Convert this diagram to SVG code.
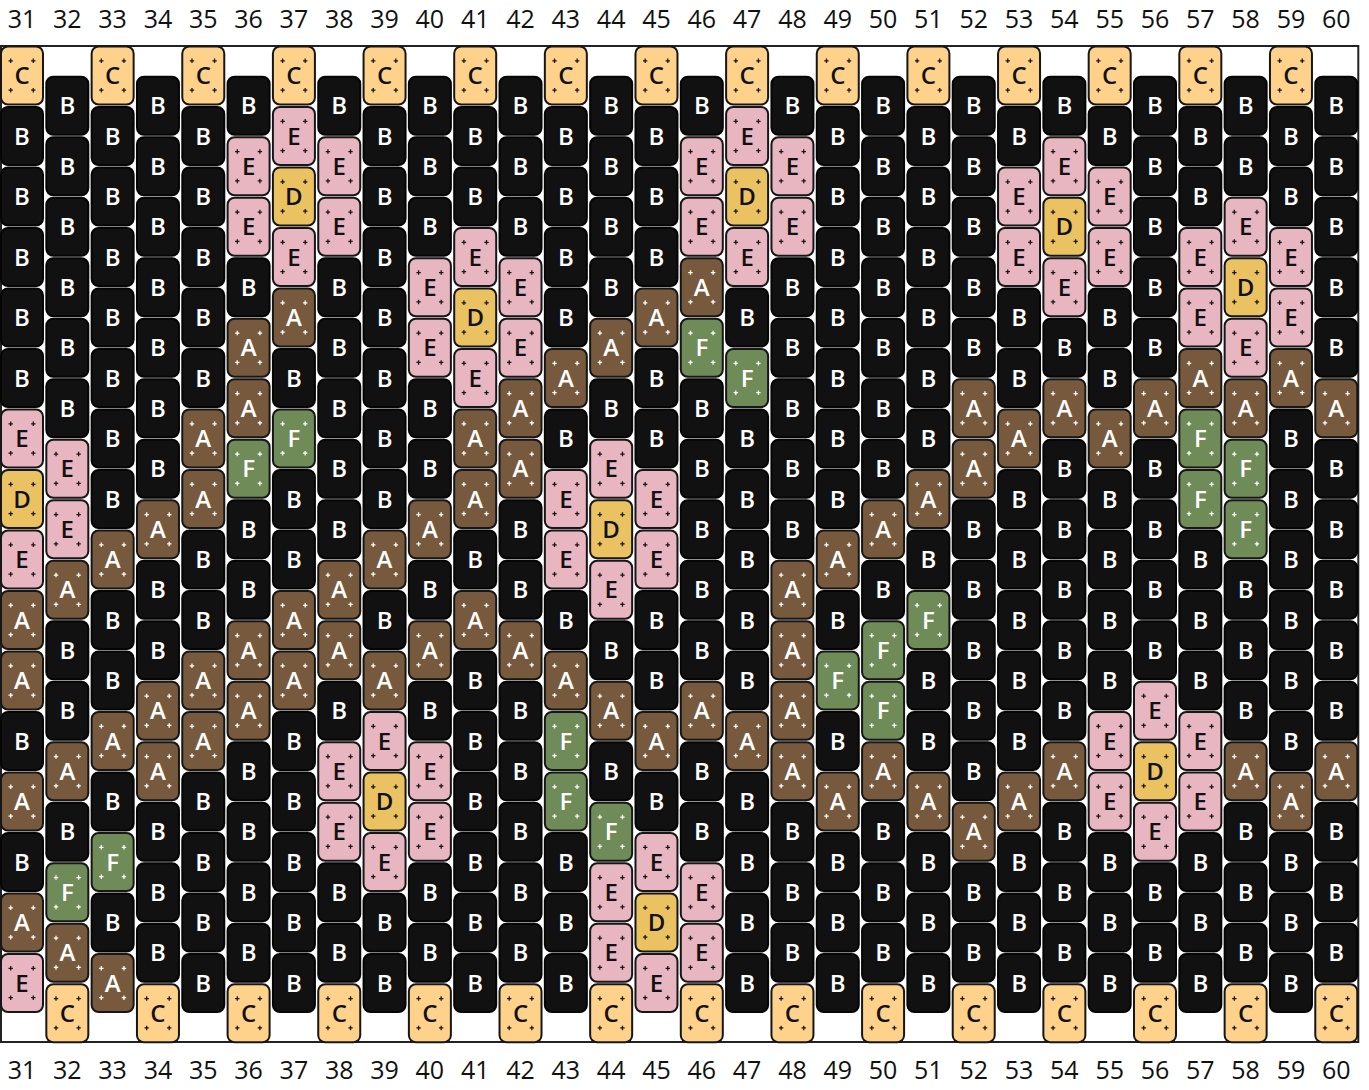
<svg xmlns="http://www.w3.org/2000/svg" xmlns:xlink="http://www.w3.org/1999/xlink" width="1369" height="1090" viewBox="0 0 1369 1090">
<style>
.bd use{stroke:#161616;stroke-width:2}
.bd use+use{fill:none;stroke-width:1.3}
.B use{fill:#111;stroke:#050505}
.C use{fill:#FFD28C}
.D use{fill:#EBC262}
.E use{fill:#E8B6C0}
.A use{fill:#775A3D}
.F use{fill:#6E8B58}
.A use+use,.F use+use{stroke:#fff}
.bd text{font-family:'Open Sans','Noto Sans',sans-serif;font-size:24px;font-weight:600;text-anchor:middle;fill:#fff}
.C text,.D text,.E text{fill:#111}
.lbl text{font-family:'Open Sans','Noto Sans',sans-serif;font-size:25px;text-anchor:middle;fill:#111}
</style>
<defs>
<rect id="r" x="-21" y="-37.5" width="42" height="58" rx="7" ry="7"/>
<path id="p" d="M-13.5,-23.2h4.4M-11.3,-25.4v4.4M9.1,-23.2h4.4M11.3,-25.4v4.4M-13.5,6.2h4.4M-11.3,4v4.4M9.1,6.2h4.4M11.3,4v4.4"/>
</defs>
<rect width="1369" height="1090" fill="#fff"/>
<g id="labels-top" class="lbl">
<text x="22" y="28">31</text><text x="67.32" y="28">32</text><text x="112.64" y="28">33</text><text x="157.96" y="28">34</text><text x="203.28" y="28">35</text><text x="248.6" y="28">36</text><text x="293.92" y="28">37</text><text x="339.24" y="28">38</text><text x="384.56" y="28">39</text><text x="429.88" y="28">40</text><text x="475.2" y="28">41</text><text x="520.52" y="28">42</text><text x="565.84" y="28">43</text><text x="611.16" y="28">44</text><text x="656.48" y="28">45</text><text x="701.8" y="28">46</text><text x="747.12" y="28">47</text><text x="792.44" y="28">48</text><text x="837.76" y="28">49</text><text x="883.08" y="28">50</text><text x="928.4" y="28">51</text><text x="973.72" y="28">52</text><text x="1019.04" y="28">53</text><text x="1064.36" y="28">54</text><text x="1109.68" y="28">55</text><text x="1155" y="28">56</text><text x="1200.32" y="28">57</text><text x="1245.64" y="28">58</text><text x="1290.96" y="28">59</text><text x="1336.28" y="28">60</text>
</g>
<g id="labels-bottom" class="lbl">
<text x="22" y="1079">31</text><text x="67.32" y="1079">32</text><text x="112.64" y="1079">33</text><text x="157.96" y="1079">34</text><text x="203.28" y="1079">35</text><text x="248.6" y="1079">36</text><text x="293.92" y="1079">37</text><text x="339.24" y="1079">38</text><text x="384.56" y="1079">39</text><text x="429.88" y="1079">40</text><text x="475.2" y="1079">41</text><text x="520.52" y="1079">42</text><text x="565.84" y="1079">43</text><text x="611.16" y="1079">44</text><text x="656.48" y="1079">45</text><text x="701.8" y="1079">46</text><text x="747.12" y="1079">47</text><text x="792.44" y="1079">48</text><text x="837.76" y="1079">49</text><text x="883.08" y="1079">50</text><text x="928.4" y="1079">51</text><text x="973.72" y="1079">52</text><text x="1019.04" y="1079">53</text><text x="1064.36" y="1079">54</text><text x="1109.68" y="1079">55</text><text x="1155" y="1079">56</text><text x="1200.32" y="1079">57</text><text x="1245.64" y="1079">58</text><text x="1290.96" y="1079">59</text><text x="1336.28" y="1079">60</text>
</g>
<rect id="frame" x="1" y="46" width="1357.3" height="996" fill="none" stroke="#222" stroke-width="2"/>
<g id="beads">
<g id="col31" transform="translate(22 84)">
<g id="n31-0" class="bd C"><use href="#r"/><use href="#p"/><text>C</text></g>
<g id="n31-1" class="bd B" transform="translate(0 60.5)"><use href="#r"/><text>B</text></g>
<g id="n31-2" class="bd B" transform="translate(0 121)"><use href="#r"/><text>B</text></g>
<g id="n31-3" class="bd B" transform="translate(0 181.5)"><use href="#r"/><text>B</text></g>
<g id="n31-4" class="bd B" transform="translate(0 242)"><use href="#r"/><text>B</text></g>
<g id="n31-5" class="bd B" transform="translate(0 302.5)"><use href="#r"/><text>B</text></g>
<g id="n31-6" class="bd E" transform="translate(0 363)"><use href="#r"/><use href="#p"/><text>E</text></g>
<g id="n31-7" class="bd D" transform="translate(0 423.5)"><use href="#r"/><use href="#p"/><text>D</text></g>
<g id="n31-8" class="bd E" transform="translate(0 484)"><use href="#r"/><use href="#p"/><text>E</text></g>
<g id="n31-9" class="bd A" transform="translate(0 544.5)"><use href="#r"/><use href="#p"/><text>A</text></g>
<g id="n31-10" class="bd A" transform="translate(0 605)"><use href="#r"/><use href="#p"/><text>A</text></g>
<g id="n31-11" class="bd B" transform="translate(0 665.5)"><use href="#r"/><text>B</text></g>
<g id="n31-12" class="bd A" transform="translate(0 726)"><use href="#r"/><use href="#p"/><text>A</text></g>
<g id="n31-13" class="bd B" transform="translate(0 786.5)"><use href="#r"/><text>B</text></g>
<g id="n31-14" class="bd A" transform="translate(0 847)"><use href="#r"/><use href="#p"/><text>A</text></g>
<g id="n31-15" class="bd E" transform="translate(0 907.5)"><use href="#r"/><use href="#p"/><text>E</text></g>
</g>
<g id="col32" transform="translate(67.32 114.25)">
<g id="n32-0" class="bd B"><use href="#r"/><text>B</text></g>
<g id="n32-1" class="bd B" transform="translate(0 60.5)"><use href="#r"/><text>B</text></g>
<g id="n32-2" class="bd B" transform="translate(0 121)"><use href="#r"/><text>B</text></g>
<g id="n32-3" class="bd B" transform="translate(0 181.5)"><use href="#r"/><text>B</text></g>
<g id="n32-4" class="bd B" transform="translate(0 242)"><use href="#r"/><text>B</text></g>
<g id="n32-5" class="bd B" transform="translate(0 302.5)"><use href="#r"/><text>B</text></g>
<g id="n32-6" class="bd E" transform="translate(0 363)"><use href="#r"/><use href="#p"/><text>E</text></g>
<g id="n32-7" class="bd E" transform="translate(0 423.5)"><use href="#r"/><use href="#p"/><text>E</text></g>
<g id="n32-8" class="bd A" transform="translate(0 484)"><use href="#r"/><use href="#p"/><text>A</text></g>
<g id="n32-9" class="bd B" transform="translate(0 544.5)"><use href="#r"/><text>B</text></g>
<g id="n32-10" class="bd B" transform="translate(0 605)"><use href="#r"/><text>B</text></g>
<g id="n32-11" class="bd A" transform="translate(0 665.5)"><use href="#r"/><use href="#p"/><text>A</text></g>
<g id="n32-12" class="bd B" transform="translate(0 726)"><use href="#r"/><text>B</text></g>
<g id="n32-13" class="bd F" transform="translate(0 786.5)"><use href="#r"/><use href="#p"/><text>F</text></g>
<g id="n32-14" class="bd A" transform="translate(0 847)"><use href="#r"/><use href="#p"/><text>A</text></g>
<g id="n32-15" class="bd C" transform="translate(0 907.5)"><use href="#r"/><use href="#p"/><text>C</text></g>
</g>
<g id="col33" transform="translate(112.64 84)">
<g id="n33-0" class="bd C"><use href="#r"/><use href="#p"/><text>C</text></g>
<g id="n33-1" class="bd B" transform="translate(0 60.5)"><use href="#r"/><text>B</text></g>
<g id="n33-2" class="bd B" transform="translate(0 121)"><use href="#r"/><text>B</text></g>
<g id="n33-3" class="bd B" transform="translate(0 181.5)"><use href="#r"/><text>B</text></g>
<g id="n33-4" class="bd B" transform="translate(0 242)"><use href="#r"/><text>B</text></g>
<g id="n33-5" class="bd B" transform="translate(0 302.5)"><use href="#r"/><text>B</text></g>
<g id="n33-6" class="bd B" transform="translate(0 363)"><use href="#r"/><text>B</text></g>
<g id="n33-7" class="bd B" transform="translate(0 423.5)"><use href="#r"/><text>B</text></g>
<g id="n33-8" class="bd A" transform="translate(0 484)"><use href="#r"/><use href="#p"/><text>A</text></g>
<g id="n33-9" class="bd B" transform="translate(0 544.5)"><use href="#r"/><text>B</text></g>
<g id="n33-10" class="bd B" transform="translate(0 605)"><use href="#r"/><text>B</text></g>
<g id="n33-11" class="bd A" transform="translate(0 665.5)"><use href="#r"/><use href="#p"/><text>A</text></g>
<g id="n33-12" class="bd B" transform="translate(0 726)"><use href="#r"/><text>B</text></g>
<g id="n33-13" class="bd F" transform="translate(0 786.5)"><use href="#r"/><use href="#p"/><text>F</text></g>
<g id="n33-14" class="bd B" transform="translate(0 847)"><use href="#r"/><text>B</text></g>
<g id="n33-15" class="bd A" transform="translate(0 907.5)"><use href="#r"/><use href="#p"/><text>A</text></g>
</g>
<g id="col34" transform="translate(157.96 114.25)">
<g id="n34-0" class="bd B"><use href="#r"/><text>B</text></g>
<g id="n34-1" class="bd B" transform="translate(0 60.5)"><use href="#r"/><text>B</text></g>
<g id="n34-2" class="bd B" transform="translate(0 121)"><use href="#r"/><text>B</text></g>
<g id="n34-3" class="bd B" transform="translate(0 181.5)"><use href="#r"/><text>B</text></g>
<g id="n34-4" class="bd B" transform="translate(0 242)"><use href="#r"/><text>B</text></g>
<g id="n34-5" class="bd B" transform="translate(0 302.5)"><use href="#r"/><text>B</text></g>
<g id="n34-6" class="bd B" transform="translate(0 363)"><use href="#r"/><text>B</text></g>
<g id="n34-7" class="bd A" transform="translate(0 423.5)"><use href="#r"/><use href="#p"/><text>A</text></g>
<g id="n34-8" class="bd B" transform="translate(0 484)"><use href="#r"/><text>B</text></g>
<g id="n34-9" class="bd B" transform="translate(0 544.5)"><use href="#r"/><text>B</text></g>
<g id="n34-10" class="bd A" transform="translate(0 605)"><use href="#r"/><use href="#p"/><text>A</text></g>
<g id="n34-11" class="bd A" transform="translate(0 665.5)"><use href="#r"/><use href="#p"/><text>A</text></g>
<g id="n34-12" class="bd B" transform="translate(0 726)"><use href="#r"/><text>B</text></g>
<g id="n34-13" class="bd B" transform="translate(0 786.5)"><use href="#r"/><text>B</text></g>
<g id="n34-14" class="bd B" transform="translate(0 847)"><use href="#r"/><text>B</text></g>
<g id="n34-15" class="bd C" transform="translate(0 907.5)"><use href="#r"/><use href="#p"/><text>C</text></g>
</g>
<g id="col35" transform="translate(203.28 84)">
<g id="n35-0" class="bd C"><use href="#r"/><use href="#p"/><text>C</text></g>
<g id="n35-1" class="bd B" transform="translate(0 60.5)"><use href="#r"/><text>B</text></g>
<g id="n35-2" class="bd B" transform="translate(0 121)"><use href="#r"/><text>B</text></g>
<g id="n35-3" class="bd B" transform="translate(0 181.5)"><use href="#r"/><text>B</text></g>
<g id="n35-4" class="bd B" transform="translate(0 242)"><use href="#r"/><text>B</text></g>
<g id="n35-5" class="bd B" transform="translate(0 302.5)"><use href="#r"/><text>B</text></g>
<g id="n35-6" class="bd A" transform="translate(0 363)"><use href="#r"/><use href="#p"/><text>A</text></g>
<g id="n35-7" class="bd A" transform="translate(0 423.5)"><use href="#r"/><use href="#p"/><text>A</text></g>
<g id="n35-8" class="bd B" transform="translate(0 484)"><use href="#r"/><text>B</text></g>
<g id="n35-9" class="bd B" transform="translate(0 544.5)"><use href="#r"/><text>B</text></g>
<g id="n35-10" class="bd A" transform="translate(0 605)"><use href="#r"/><use href="#p"/><text>A</text></g>
<g id="n35-11" class="bd A" transform="translate(0 665.5)"><use href="#r"/><use href="#p"/><text>A</text></g>
<g id="n35-12" class="bd B" transform="translate(0 726)"><use href="#r"/><text>B</text></g>
<g id="n35-13" class="bd B" transform="translate(0 786.5)"><use href="#r"/><text>B</text></g>
<g id="n35-14" class="bd B" transform="translate(0 847)"><use href="#r"/><text>B</text></g>
<g id="n35-15" class="bd B" transform="translate(0 907.5)"><use href="#r"/><text>B</text></g>
</g>
<g id="col36" transform="translate(248.6 114.25)">
<g id="n36-0" class="bd B"><use href="#r"/><text>B</text></g>
<g id="n36-1" class="bd E" transform="translate(0 60.5)"><use href="#r"/><use href="#p"/><text>E</text></g>
<g id="n36-2" class="bd E" transform="translate(0 121)"><use href="#r"/><use href="#p"/><text>E</text></g>
<g id="n36-3" class="bd B" transform="translate(0 181.5)"><use href="#r"/><text>B</text></g>
<g id="n36-4" class="bd A" transform="translate(0 242)"><use href="#r"/><use href="#p"/><text>A</text></g>
<g id="n36-5" class="bd A" transform="translate(0 302.5)"><use href="#r"/><use href="#p"/><text>A</text></g>
<g id="n36-6" class="bd F" transform="translate(0 363)"><use href="#r"/><use href="#p"/><text>F</text></g>
<g id="n36-7" class="bd B" transform="translate(0 423.5)"><use href="#r"/><text>B</text></g>
<g id="n36-8" class="bd B" transform="translate(0 484)"><use href="#r"/><text>B</text></g>
<g id="n36-9" class="bd A" transform="translate(0 544.5)"><use href="#r"/><use href="#p"/><text>A</text></g>
<g id="n36-10" class="bd A" transform="translate(0 605)"><use href="#r"/><use href="#p"/><text>A</text></g>
<g id="n36-11" class="bd B" transform="translate(0 665.5)"><use href="#r"/><text>B</text></g>
<g id="n36-12" class="bd B" transform="translate(0 726)"><use href="#r"/><text>B</text></g>
<g id="n36-13" class="bd B" transform="translate(0 786.5)"><use href="#r"/><text>B</text></g>
<g id="n36-14" class="bd B" transform="translate(0 847)"><use href="#r"/><text>B</text></g>
<g id="n36-15" class="bd C" transform="translate(0 907.5)"><use href="#r"/><use href="#p"/><text>C</text></g>
</g>
<g id="col37" transform="translate(293.92 84)">
<g id="n37-0" class="bd C"><use href="#r"/><use href="#p"/><text>C</text></g>
<g id="n37-1" class="bd E" transform="translate(0 60.5)"><use href="#r"/><use href="#p"/><text>E</text></g>
<g id="n37-2" class="bd D" transform="translate(0 121)"><use href="#r"/><use href="#p"/><text>D</text></g>
<g id="n37-3" class="bd E" transform="translate(0 181.5)"><use href="#r"/><use href="#p"/><text>E</text></g>
<g id="n37-4" class="bd A" transform="translate(0 242)"><use href="#r"/><use href="#p"/><text>A</text></g>
<g id="n37-5" class="bd B" transform="translate(0 302.5)"><use href="#r"/><text>B</text></g>
<g id="n37-6" class="bd F" transform="translate(0 363)"><use href="#r"/><use href="#p"/><text>F</text></g>
<g id="n37-7" class="bd B" transform="translate(0 423.5)"><use href="#r"/><text>B</text></g>
<g id="n37-8" class="bd B" transform="translate(0 484)"><use href="#r"/><text>B</text></g>
<g id="n37-9" class="bd A" transform="translate(0 544.5)"><use href="#r"/><use href="#p"/><text>A</text></g>
<g id="n37-10" class="bd A" transform="translate(0 605)"><use href="#r"/><use href="#p"/><text>A</text></g>
<g id="n37-11" class="bd B" transform="translate(0 665.5)"><use href="#r"/><text>B</text></g>
<g id="n37-12" class="bd B" transform="translate(0 726)"><use href="#r"/><text>B</text></g>
<g id="n37-13" class="bd B" transform="translate(0 786.5)"><use href="#r"/><text>B</text></g>
<g id="n37-14" class="bd B" transform="translate(0 847)"><use href="#r"/><text>B</text></g>
<g id="n37-15" class="bd B" transform="translate(0 907.5)"><use href="#r"/><text>B</text></g>
</g>
<g id="col38" transform="translate(339.24 114.25)">
<g id="n38-0" class="bd B"><use href="#r"/><text>B</text></g>
<g id="n38-1" class="bd E" transform="translate(0 60.5)"><use href="#r"/><use href="#p"/><text>E</text></g>
<g id="n38-2" class="bd E" transform="translate(0 121)"><use href="#r"/><use href="#p"/><text>E</text></g>
<g id="n38-3" class="bd B" transform="translate(0 181.5)"><use href="#r"/><text>B</text></g>
<g id="n38-4" class="bd B" transform="translate(0 242)"><use href="#r"/><text>B</text></g>
<g id="n38-5" class="bd B" transform="translate(0 302.5)"><use href="#r"/><text>B</text></g>
<g id="n38-6" class="bd B" transform="translate(0 363)"><use href="#r"/><text>B</text></g>
<g id="n38-7" class="bd B" transform="translate(0 423.5)"><use href="#r"/><text>B</text></g>
<g id="n38-8" class="bd A" transform="translate(0 484)"><use href="#r"/><use href="#p"/><text>A</text></g>
<g id="n38-9" class="bd A" transform="translate(0 544.5)"><use href="#r"/><use href="#p"/><text>A</text></g>
<g id="n38-10" class="bd B" transform="translate(0 605)"><use href="#r"/><text>B</text></g>
<g id="n38-11" class="bd E" transform="translate(0 665.5)"><use href="#r"/><use href="#p"/><text>E</text></g>
<g id="n38-12" class="bd E" transform="translate(0 726)"><use href="#r"/><use href="#p"/><text>E</text></g>
<g id="n38-13" class="bd B" transform="translate(0 786.5)"><use href="#r"/><text>B</text></g>
<g id="n38-14" class="bd B" transform="translate(0 847)"><use href="#r"/><text>B</text></g>
<g id="n38-15" class="bd C" transform="translate(0 907.5)"><use href="#r"/><use href="#p"/><text>C</text></g>
</g>
<g id="col39" transform="translate(384.56 84)">
<g id="n39-0" class="bd C"><use href="#r"/><use href="#p"/><text>C</text></g>
<g id="n39-1" class="bd B" transform="translate(0 60.5)"><use href="#r"/><text>B</text></g>
<g id="n39-2" class="bd B" transform="translate(0 121)"><use href="#r"/><text>B</text></g>
<g id="n39-3" class="bd B" transform="translate(0 181.5)"><use href="#r"/><text>B</text></g>
<g id="n39-4" class="bd B" transform="translate(0 242)"><use href="#r"/><text>B</text></g>
<g id="n39-5" class="bd B" transform="translate(0 302.5)"><use href="#r"/><text>B</text></g>
<g id="n39-6" class="bd B" transform="translate(0 363)"><use href="#r"/><text>B</text></g>
<g id="n39-7" class="bd B" transform="translate(0 423.5)"><use href="#r"/><text>B</text></g>
<g id="n39-8" class="bd A" transform="translate(0 484)"><use href="#r"/><use href="#p"/><text>A</text></g>
<g id="n39-9" class="bd B" transform="translate(0 544.5)"><use href="#r"/><text>B</text></g>
<g id="n39-10" class="bd A" transform="translate(0 605)"><use href="#r"/><use href="#p"/><text>A</text></g>
<g id="n39-11" class="bd E" transform="translate(0 665.5)"><use href="#r"/><use href="#p"/><text>E</text></g>
<g id="n39-12" class="bd D" transform="translate(0 726)"><use href="#r"/><use href="#p"/><text>D</text></g>
<g id="n39-13" class="bd E" transform="translate(0 786.5)"><use href="#r"/><use href="#p"/><text>E</text></g>
<g id="n39-14" class="bd B" transform="translate(0 847)"><use href="#r"/><text>B</text></g>
<g id="n39-15" class="bd B" transform="translate(0 907.5)"><use href="#r"/><text>B</text></g>
</g>
<g id="col40" transform="translate(429.88 114.25)">
<g id="n40-0" class="bd B"><use href="#r"/><text>B</text></g>
<g id="n40-1" class="bd B" transform="translate(0 60.5)"><use href="#r"/><text>B</text></g>
<g id="n40-2" class="bd B" transform="translate(0 121)"><use href="#r"/><text>B</text></g>
<g id="n40-3" class="bd E" transform="translate(0 181.5)"><use href="#r"/><use href="#p"/><text>E</text></g>
<g id="n40-4" class="bd E" transform="translate(0 242)"><use href="#r"/><use href="#p"/><text>E</text></g>
<g id="n40-5" class="bd B" transform="translate(0 302.5)"><use href="#r"/><text>B</text></g>
<g id="n40-6" class="bd B" transform="translate(0 363)"><use href="#r"/><text>B</text></g>
<g id="n40-7" class="bd A" transform="translate(0 423.5)"><use href="#r"/><use href="#p"/><text>A</text></g>
<g id="n40-8" class="bd B" transform="translate(0 484)"><use href="#r"/><text>B</text></g>
<g id="n40-9" class="bd A" transform="translate(0 544.5)"><use href="#r"/><use href="#p"/><text>A</text></g>
<g id="n40-10" class="bd B" transform="translate(0 605)"><use href="#r"/><text>B</text></g>
<g id="n40-11" class="bd E" transform="translate(0 665.5)"><use href="#r"/><use href="#p"/><text>E</text></g>
<g id="n40-12" class="bd E" transform="translate(0 726)"><use href="#r"/><use href="#p"/><text>E</text></g>
<g id="n40-13" class="bd B" transform="translate(0 786.5)"><use href="#r"/><text>B</text></g>
<g id="n40-14" class="bd B" transform="translate(0 847)"><use href="#r"/><text>B</text></g>
<g id="n40-15" class="bd C" transform="translate(0 907.5)"><use href="#r"/><use href="#p"/><text>C</text></g>
</g>
<g id="col41" transform="translate(475.2 84)">
<g id="n41-0" class="bd C"><use href="#r"/><use href="#p"/><text>C</text></g>
<g id="n41-1" class="bd B" transform="translate(0 60.5)"><use href="#r"/><text>B</text></g>
<g id="n41-2" class="bd B" transform="translate(0 121)"><use href="#r"/><text>B</text></g>
<g id="n41-3" class="bd E" transform="translate(0 181.5)"><use href="#r"/><use href="#p"/><text>E</text></g>
<g id="n41-4" class="bd D" transform="translate(0 242)"><use href="#r"/><use href="#p"/><text>D</text></g>
<g id="n41-5" class="bd E" transform="translate(0 302.5)"><use href="#r"/><use href="#p"/><text>E</text></g>
<g id="n41-6" class="bd A" transform="translate(0 363)"><use href="#r"/><use href="#p"/><text>A</text></g>
<g id="n41-7" class="bd A" transform="translate(0 423.5)"><use href="#r"/><use href="#p"/><text>A</text></g>
<g id="n41-8" class="bd B" transform="translate(0 484)"><use href="#r"/><text>B</text></g>
<g id="n41-9" class="bd A" transform="translate(0 544.5)"><use href="#r"/><use href="#p"/><text>A</text></g>
<g id="n41-10" class="bd B" transform="translate(0 605)"><use href="#r"/><text>B</text></g>
<g id="n41-11" class="bd B" transform="translate(0 665.5)"><use href="#r"/><text>B</text></g>
<g id="n41-12" class="bd B" transform="translate(0 726)"><use href="#r"/><text>B</text></g>
<g id="n41-13" class="bd B" transform="translate(0 786.5)"><use href="#r"/><text>B</text></g>
<g id="n41-14" class="bd B" transform="translate(0 847)"><use href="#r"/><text>B</text></g>
<g id="n41-15" class="bd B" transform="translate(0 907.5)"><use href="#r"/><text>B</text></g>
</g>
<g id="col42" transform="translate(520.52 114.25)">
<g id="n42-0" class="bd B"><use href="#r"/><text>B</text></g>
<g id="n42-1" class="bd B" transform="translate(0 60.5)"><use href="#r"/><text>B</text></g>
<g id="n42-2" class="bd B" transform="translate(0 121)"><use href="#r"/><text>B</text></g>
<g id="n42-3" class="bd E" transform="translate(0 181.5)"><use href="#r"/><use href="#p"/><text>E</text></g>
<g id="n42-4" class="bd E" transform="translate(0 242)"><use href="#r"/><use href="#p"/><text>E</text></g>
<g id="n42-5" class="bd A" transform="translate(0 302.5)"><use href="#r"/><use href="#p"/><text>A</text></g>
<g id="n42-6" class="bd A" transform="translate(0 363)"><use href="#r"/><use href="#p"/><text>A</text></g>
<g id="n42-7" class="bd B" transform="translate(0 423.5)"><use href="#r"/><text>B</text></g>
<g id="n42-8" class="bd B" transform="translate(0 484)"><use href="#r"/><text>B</text></g>
<g id="n42-9" class="bd A" transform="translate(0 544.5)"><use href="#r"/><use href="#p"/><text>A</text></g>
<g id="n42-10" class="bd B" transform="translate(0 605)"><use href="#r"/><text>B</text></g>
<g id="n42-11" class="bd B" transform="translate(0 665.5)"><use href="#r"/><text>B</text></g>
<g id="n42-12" class="bd B" transform="translate(0 726)"><use href="#r"/><text>B</text></g>
<g id="n42-13" class="bd B" transform="translate(0 786.5)"><use href="#r"/><text>B</text></g>
<g id="n42-14" class="bd B" transform="translate(0 847)"><use href="#r"/><text>B</text></g>
<g id="n42-15" class="bd C" transform="translate(0 907.5)"><use href="#r"/><use href="#p"/><text>C</text></g>
</g>
<g id="col43" transform="translate(565.84 84)">
<g id="n43-0" class="bd C"><use href="#r"/><use href="#p"/><text>C</text></g>
<g id="n43-1" class="bd B" transform="translate(0 60.5)"><use href="#r"/><text>B</text></g>
<g id="n43-2" class="bd B" transform="translate(0 121)"><use href="#r"/><text>B</text></g>
<g id="n43-3" class="bd B" transform="translate(0 181.5)"><use href="#r"/><text>B</text></g>
<g id="n43-4" class="bd B" transform="translate(0 242)"><use href="#r"/><text>B</text></g>
<g id="n43-5" class="bd A" transform="translate(0 302.5)"><use href="#r"/><use href="#p"/><text>A</text></g>
<g id="n43-6" class="bd B" transform="translate(0 363)"><use href="#r"/><text>B</text></g>
<g id="n43-7" class="bd E" transform="translate(0 423.5)"><use href="#r"/><use href="#p"/><text>E</text></g>
<g id="n43-8" class="bd E" transform="translate(0 484)"><use href="#r"/><use href="#p"/><text>E</text></g>
<g id="n43-9" class="bd B" transform="translate(0 544.5)"><use href="#r"/><text>B</text></g>
<g id="n43-10" class="bd A" transform="translate(0 605)"><use href="#r"/><use href="#p"/><text>A</text></g>
<g id="n43-11" class="bd F" transform="translate(0 665.5)"><use href="#r"/><use href="#p"/><text>F</text></g>
<g id="n43-12" class="bd F" transform="translate(0 726)"><use href="#r"/><use href="#p"/><text>F</text></g>
<g id="n43-13" class="bd B" transform="translate(0 786.5)"><use href="#r"/><text>B</text></g>
<g id="n43-14" class="bd B" transform="translate(0 847)"><use href="#r"/><text>B</text></g>
<g id="n43-15" class="bd B" transform="translate(0 907.5)"><use href="#r"/><text>B</text></g>
</g>
<g id="col44" transform="translate(611.16 114.25)">
<g id="n44-0" class="bd B"><use href="#r"/><text>B</text></g>
<g id="n44-1" class="bd B" transform="translate(0 60.5)"><use href="#r"/><text>B</text></g>
<g id="n44-2" class="bd B" transform="translate(0 121)"><use href="#r"/><text>B</text></g>
<g id="n44-3" class="bd B" transform="translate(0 181.5)"><use href="#r"/><text>B</text></g>
<g id="n44-4" class="bd A" transform="translate(0 242)"><use href="#r"/><use href="#p"/><text>A</text></g>
<g id="n44-5" class="bd B" transform="translate(0 302.5)"><use href="#r"/><text>B</text></g>
<g id="n44-6" class="bd E" transform="translate(0 363)"><use href="#r"/><use href="#p"/><text>E</text></g>
<g id="n44-7" class="bd D" transform="translate(0 423.5)"><use href="#r"/><use href="#p"/><text>D</text></g>
<g id="n44-8" class="bd E" transform="translate(0 484)"><use href="#r"/><use href="#p"/><text>E</text></g>
<g id="n44-9" class="bd B" transform="translate(0 544.5)"><use href="#r"/><text>B</text></g>
<g id="n44-10" class="bd A" transform="translate(0 605)"><use href="#r"/><use href="#p"/><text>A</text></g>
<g id="n44-11" class="bd B" transform="translate(0 665.5)"><use href="#r"/><text>B</text></g>
<g id="n44-12" class="bd F" transform="translate(0 726)"><use href="#r"/><use href="#p"/><text>F</text></g>
<g id="n44-13" class="bd E" transform="translate(0 786.5)"><use href="#r"/><use href="#p"/><text>E</text></g>
<g id="n44-14" class="bd E" transform="translate(0 847)"><use href="#r"/><use href="#p"/><text>E</text></g>
<g id="n44-15" class="bd C" transform="translate(0 907.5)"><use href="#r"/><use href="#p"/><text>C</text></g>
</g>
<g id="col45" transform="translate(656.48 84)">
<g id="n45-0" class="bd C"><use href="#r"/><use href="#p"/><text>C</text></g>
<g id="n45-1" class="bd B" transform="translate(0 60.5)"><use href="#r"/><text>B</text></g>
<g id="n45-2" class="bd B" transform="translate(0 121)"><use href="#r"/><text>B</text></g>
<g id="n45-3" class="bd B" transform="translate(0 181.5)"><use href="#r"/><text>B</text></g>
<g id="n45-4" class="bd A" transform="translate(0 242)"><use href="#r"/><use href="#p"/><text>A</text></g>
<g id="n45-5" class="bd B" transform="translate(0 302.5)"><use href="#r"/><text>B</text></g>
<g id="n45-6" class="bd B" transform="translate(0 363)"><use href="#r"/><text>B</text></g>
<g id="n45-7" class="bd E" transform="translate(0 423.5)"><use href="#r"/><use href="#p"/><text>E</text></g>
<g id="n45-8" class="bd E" transform="translate(0 484)"><use href="#r"/><use href="#p"/><text>E</text></g>
<g id="n45-9" class="bd B" transform="translate(0 544.5)"><use href="#r"/><text>B</text></g>
<g id="n45-10" class="bd B" transform="translate(0 605)"><use href="#r"/><text>B</text></g>
<g id="n45-11" class="bd A" transform="translate(0 665.5)"><use href="#r"/><use href="#p"/><text>A</text></g>
<g id="n45-12" class="bd B" transform="translate(0 726)"><use href="#r"/><text>B</text></g>
<g id="n45-13" class="bd E" transform="translate(0 786.5)"><use href="#r"/><use href="#p"/><text>E</text></g>
<g id="n45-14" class="bd D" transform="translate(0 847)"><use href="#r"/><use href="#p"/><text>D</text></g>
<g id="n45-15" class="bd E" transform="translate(0 907.5)"><use href="#r"/><use href="#p"/><text>E</text></g>
</g>
<g id="col46" transform="translate(701.8 114.25)">
<g id="n46-0" class="bd B"><use href="#r"/><text>B</text></g>
<g id="n46-1" class="bd E" transform="translate(0 60.5)"><use href="#r"/><use href="#p"/><text>E</text></g>
<g id="n46-2" class="bd E" transform="translate(0 121)"><use href="#r"/><use href="#p"/><text>E</text></g>
<g id="n46-3" class="bd A" transform="translate(0 181.5)"><use href="#r"/><use href="#p"/><text>A</text></g>
<g id="n46-4" class="bd F" transform="translate(0 242)"><use href="#r"/><use href="#p"/><text>F</text></g>
<g id="n46-5" class="bd B" transform="translate(0 302.5)"><use href="#r"/><text>B</text></g>
<g id="n46-6" class="bd B" transform="translate(0 363)"><use href="#r"/><text>B</text></g>
<g id="n46-7" class="bd B" transform="translate(0 423.5)"><use href="#r"/><text>B</text></g>
<g id="n46-8" class="bd B" transform="translate(0 484)"><use href="#r"/><text>B</text></g>
<g id="n46-9" class="bd B" transform="translate(0 544.5)"><use href="#r"/><text>B</text></g>
<g id="n46-10" class="bd A" transform="translate(0 605)"><use href="#r"/><use href="#p"/><text>A</text></g>
<g id="n46-11" class="bd B" transform="translate(0 665.5)"><use href="#r"/><text>B</text></g>
<g id="n46-12" class="bd B" transform="translate(0 726)"><use href="#r"/><text>B</text></g>
<g id="n46-13" class="bd E" transform="translate(0 786.5)"><use href="#r"/><use href="#p"/><text>E</text></g>
<g id="n46-14" class="bd E" transform="translate(0 847)"><use href="#r"/><use href="#p"/><text>E</text></g>
<g id="n46-15" class="bd C" transform="translate(0 907.5)"><use href="#r"/><use href="#p"/><text>C</text></g>
</g>
<g id="col47" transform="translate(747.12 84)">
<g id="n47-0" class="bd C"><use href="#r"/><use href="#p"/><text>C</text></g>
<g id="n47-1" class="bd E" transform="translate(0 60.5)"><use href="#r"/><use href="#p"/><text>E</text></g>
<g id="n47-2" class="bd D" transform="translate(0 121)"><use href="#r"/><use href="#p"/><text>D</text></g>
<g id="n47-3" class="bd E" transform="translate(0 181.5)"><use href="#r"/><use href="#p"/><text>E</text></g>
<g id="n47-4" class="bd B" transform="translate(0 242)"><use href="#r"/><text>B</text></g>
<g id="n47-5" class="bd F" transform="translate(0 302.5)"><use href="#r"/><use href="#p"/><text>F</text></g>
<g id="n47-6" class="bd B" transform="translate(0 363)"><use href="#r"/><text>B</text></g>
<g id="n47-7" class="bd B" transform="translate(0 423.5)"><use href="#r"/><text>B</text></g>
<g id="n47-8" class="bd B" transform="translate(0 484)"><use href="#r"/><text>B</text></g>
<g id="n47-9" class="bd B" transform="translate(0 544.5)"><use href="#r"/><text>B</text></g>
<g id="n47-10" class="bd B" transform="translate(0 605)"><use href="#r"/><text>B</text></g>
<g id="n47-11" class="bd A" transform="translate(0 665.5)"><use href="#r"/><use href="#p"/><text>A</text></g>
<g id="n47-12" class="bd B" transform="translate(0 726)"><use href="#r"/><text>B</text></g>
<g id="n47-13" class="bd B" transform="translate(0 786.5)"><use href="#r"/><text>B</text></g>
<g id="n47-14" class="bd B" transform="translate(0 847)"><use href="#r"/><text>B</text></g>
<g id="n47-15" class="bd B" transform="translate(0 907.5)"><use href="#r"/><text>B</text></g>
</g>
<g id="col48" transform="translate(792.44 114.25)">
<g id="n48-0" class="bd B"><use href="#r"/><text>B</text></g>
<g id="n48-1" class="bd E" transform="translate(0 60.5)"><use href="#r"/><use href="#p"/><text>E</text></g>
<g id="n48-2" class="bd E" transform="translate(0 121)"><use href="#r"/><use href="#p"/><text>E</text></g>
<g id="n48-3" class="bd B" transform="translate(0 181.5)"><use href="#r"/><text>B</text></g>
<g id="n48-4" class="bd B" transform="translate(0 242)"><use href="#r"/><text>B</text></g>
<g id="n48-5" class="bd B" transform="translate(0 302.5)"><use href="#r"/><text>B</text></g>
<g id="n48-6" class="bd B" transform="translate(0 363)"><use href="#r"/><text>B</text></g>
<g id="n48-7" class="bd B" transform="translate(0 423.5)"><use href="#r"/><text>B</text></g>
<g id="n48-8" class="bd A" transform="translate(0 484)"><use href="#r"/><use href="#p"/><text>A</text></g>
<g id="n48-9" class="bd A" transform="translate(0 544.5)"><use href="#r"/><use href="#p"/><text>A</text></g>
<g id="n48-10" class="bd A" transform="translate(0 605)"><use href="#r"/><use href="#p"/><text>A</text></g>
<g id="n48-11" class="bd A" transform="translate(0 665.5)"><use href="#r"/><use href="#p"/><text>A</text></g>
<g id="n48-12" class="bd B" transform="translate(0 726)"><use href="#r"/><text>B</text></g>
<g id="n48-13" class="bd B" transform="translate(0 786.5)"><use href="#r"/><text>B</text></g>
<g id="n48-14" class="bd B" transform="translate(0 847)"><use href="#r"/><text>B</text></g>
<g id="n48-15" class="bd C" transform="translate(0 907.5)"><use href="#r"/><use href="#p"/><text>C</text></g>
</g>
<g id="col49" transform="translate(837.76 84)">
<g id="n49-0" class="bd C"><use href="#r"/><use href="#p"/><text>C</text></g>
<g id="n49-1" class="bd B" transform="translate(0 60.5)"><use href="#r"/><text>B</text></g>
<g id="n49-2" class="bd B" transform="translate(0 121)"><use href="#r"/><text>B</text></g>
<g id="n49-3" class="bd B" transform="translate(0 181.5)"><use href="#r"/><text>B</text></g>
<g id="n49-4" class="bd B" transform="translate(0 242)"><use href="#r"/><text>B</text></g>
<g id="n49-5" class="bd B" transform="translate(0 302.5)"><use href="#r"/><text>B</text></g>
<g id="n49-6" class="bd B" transform="translate(0 363)"><use href="#r"/><text>B</text></g>
<g id="n49-7" class="bd B" transform="translate(0 423.5)"><use href="#r"/><text>B</text></g>
<g id="n49-8" class="bd A" transform="translate(0 484)"><use href="#r"/><use href="#p"/><text>A</text></g>
<g id="n49-9" class="bd B" transform="translate(0 544.5)"><use href="#r"/><text>B</text></g>
<g id="n49-10" class="bd F" transform="translate(0 605)"><use href="#r"/><use href="#p"/><text>F</text></g>
<g id="n49-11" class="bd B" transform="translate(0 665.5)"><use href="#r"/><text>B</text></g>
<g id="n49-12" class="bd A" transform="translate(0 726)"><use href="#r"/><use href="#p"/><text>A</text></g>
<g id="n49-13" class="bd B" transform="translate(0 786.5)"><use href="#r"/><text>B</text></g>
<g id="n49-14" class="bd B" transform="translate(0 847)"><use href="#r"/><text>B</text></g>
<g id="n49-15" class="bd B" transform="translate(0 907.5)"><use href="#r"/><text>B</text></g>
</g>
<g id="col50" transform="translate(883.08 114.25)">
<g id="n50-0" class="bd B"><use href="#r"/><text>B</text></g>
<g id="n50-1" class="bd B" transform="translate(0 60.5)"><use href="#r"/><text>B</text></g>
<g id="n50-2" class="bd B" transform="translate(0 121)"><use href="#r"/><text>B</text></g>
<g id="n50-3" class="bd B" transform="translate(0 181.5)"><use href="#r"/><text>B</text></g>
<g id="n50-4" class="bd B" transform="translate(0 242)"><use href="#r"/><text>B</text></g>
<g id="n50-5" class="bd B" transform="translate(0 302.5)"><use href="#r"/><text>B</text></g>
<g id="n50-6" class="bd B" transform="translate(0 363)"><use href="#r"/><text>B</text></g>
<g id="n50-7" class="bd A" transform="translate(0 423.5)"><use href="#r"/><use href="#p"/><text>A</text></g>
<g id="n50-8" class="bd B" transform="translate(0 484)"><use href="#r"/><text>B</text></g>
<g id="n50-9" class="bd F" transform="translate(0 544.5)"><use href="#r"/><use href="#p"/><text>F</text></g>
<g id="n50-10" class="bd F" transform="translate(0 605)"><use href="#r"/><use href="#p"/><text>F</text></g>
<g id="n50-11" class="bd A" transform="translate(0 665.5)"><use href="#r"/><use href="#p"/><text>A</text></g>
<g id="n50-12" class="bd B" transform="translate(0 726)"><use href="#r"/><text>B</text></g>
<g id="n50-13" class="bd B" transform="translate(0 786.5)"><use href="#r"/><text>B</text></g>
<g id="n50-14" class="bd B" transform="translate(0 847)"><use href="#r"/><text>B</text></g>
<g id="n50-15" class="bd C" transform="translate(0 907.5)"><use href="#r"/><use href="#p"/><text>C</text></g>
</g>
<g id="col51" transform="translate(928.4 84)">
<g id="n51-0" class="bd C"><use href="#r"/><use href="#p"/><text>C</text></g>
<g id="n51-1" class="bd B" transform="translate(0 60.5)"><use href="#r"/><text>B</text></g>
<g id="n51-2" class="bd B" transform="translate(0 121)"><use href="#r"/><text>B</text></g>
<g id="n51-3" class="bd B" transform="translate(0 181.5)"><use href="#r"/><text>B</text></g>
<g id="n51-4" class="bd B" transform="translate(0 242)"><use href="#r"/><text>B</text></g>
<g id="n51-5" class="bd B" transform="translate(0 302.5)"><use href="#r"/><text>B</text></g>
<g id="n51-6" class="bd B" transform="translate(0 363)"><use href="#r"/><text>B</text></g>
<g id="n51-7" class="bd A" transform="translate(0 423.5)"><use href="#r"/><use href="#p"/><text>A</text></g>
<g id="n51-8" class="bd B" transform="translate(0 484)"><use href="#r"/><text>B</text></g>
<g id="n51-9" class="bd F" transform="translate(0 544.5)"><use href="#r"/><use href="#p"/><text>F</text></g>
<g id="n51-10" class="bd B" transform="translate(0 605)"><use href="#r"/><text>B</text></g>
<g id="n51-11" class="bd B" transform="translate(0 665.5)"><use href="#r"/><text>B</text></g>
<g id="n51-12" class="bd A" transform="translate(0 726)"><use href="#r"/><use href="#p"/><text>A</text></g>
<g id="n51-13" class="bd B" transform="translate(0 786.5)"><use href="#r"/><text>B</text></g>
<g id="n51-14" class="bd B" transform="translate(0 847)"><use href="#r"/><text>B</text></g>
<g id="n51-15" class="bd B" transform="translate(0 907.5)"><use href="#r"/><text>B</text></g>
</g>
<g id="col52" transform="translate(973.72 114.25)">
<g id="n52-0" class="bd B"><use href="#r"/><text>B</text></g>
<g id="n52-1" class="bd B" transform="translate(0 60.5)"><use href="#r"/><text>B</text></g>
<g id="n52-2" class="bd B" transform="translate(0 121)"><use href="#r"/><text>B</text></g>
<g id="n52-3" class="bd B" transform="translate(0 181.5)"><use href="#r"/><text>B</text></g>
<g id="n52-4" class="bd B" transform="translate(0 242)"><use href="#r"/><text>B</text></g>
<g id="n52-5" class="bd A" transform="translate(0 302.5)"><use href="#r"/><use href="#p"/><text>A</text></g>
<g id="n52-6" class="bd A" transform="translate(0 363)"><use href="#r"/><use href="#p"/><text>A</text></g>
<g id="n52-7" class="bd B" transform="translate(0 423.5)"><use href="#r"/><text>B</text></g>
<g id="n52-8" class="bd B" transform="translate(0 484)"><use href="#r"/><text>B</text></g>
<g id="n52-9" class="bd B" transform="translate(0 544.5)"><use href="#r"/><text>B</text></g>
<g id="n52-10" class="bd B" transform="translate(0 605)"><use href="#r"/><text>B</text></g>
<g id="n52-11" class="bd B" transform="translate(0 665.5)"><use href="#r"/><text>B</text></g>
<g id="n52-12" class="bd A" transform="translate(0 726)"><use href="#r"/><use href="#p"/><text>A</text></g>
<g id="n52-13" class="bd B" transform="translate(0 786.5)"><use href="#r"/><text>B</text></g>
<g id="n52-14" class="bd B" transform="translate(0 847)"><use href="#r"/><text>B</text></g>
<g id="n52-15" class="bd C" transform="translate(0 907.5)"><use href="#r"/><use href="#p"/><text>C</text></g>
</g>
<g id="col53" transform="translate(1019.04 84)">
<g id="n53-0" class="bd C"><use href="#r"/><use href="#p"/><text>C</text></g>
<g id="n53-1" class="bd B" transform="translate(0 60.5)"><use href="#r"/><text>B</text></g>
<g id="n53-2" class="bd E" transform="translate(0 121)"><use href="#r"/><use href="#p"/><text>E</text></g>
<g id="n53-3" class="bd E" transform="translate(0 181.5)"><use href="#r"/><use href="#p"/><text>E</text></g>
<g id="n53-4" class="bd B" transform="translate(0 242)"><use href="#r"/><text>B</text></g>
<g id="n53-5" class="bd B" transform="translate(0 302.5)"><use href="#r"/><text>B</text></g>
<g id="n53-6" class="bd A" transform="translate(0 363)"><use href="#r"/><use href="#p"/><text>A</text></g>
<g id="n53-7" class="bd B" transform="translate(0 423.5)"><use href="#r"/><text>B</text></g>
<g id="n53-8" class="bd B" transform="translate(0 484)"><use href="#r"/><text>B</text></g>
<g id="n53-9" class="bd B" transform="translate(0 544.5)"><use href="#r"/><text>B</text></g>
<g id="n53-10" class="bd B" transform="translate(0 605)"><use href="#r"/><text>B</text></g>
<g id="n53-11" class="bd B" transform="translate(0 665.5)"><use href="#r"/><text>B</text></g>
<g id="n53-12" class="bd A" transform="translate(0 726)"><use href="#r"/><use href="#p"/><text>A</text></g>
<g id="n53-13" class="bd B" transform="translate(0 786.5)"><use href="#r"/><text>B</text></g>
<g id="n53-14" class="bd B" transform="translate(0 847)"><use href="#r"/><text>B</text></g>
<g id="n53-15" class="bd B" transform="translate(0 907.5)"><use href="#r"/><text>B</text></g>
</g>
<g id="col54" transform="translate(1064.36 114.25)">
<g id="n54-0" class="bd B"><use href="#r"/><text>B</text></g>
<g id="n54-1" class="bd E" transform="translate(0 60.5)"><use href="#r"/><use href="#p"/><text>E</text></g>
<g id="n54-2" class="bd D" transform="translate(0 121)"><use href="#r"/><use href="#p"/><text>D</text></g>
<g id="n54-3" class="bd E" transform="translate(0 181.5)"><use href="#r"/><use href="#p"/><text>E</text></g>
<g id="n54-4" class="bd B" transform="translate(0 242)"><use href="#r"/><text>B</text></g>
<g id="n54-5" class="bd A" transform="translate(0 302.5)"><use href="#r"/><use href="#p"/><text>A</text></g>
<g id="n54-6" class="bd B" transform="translate(0 363)"><use href="#r"/><text>B</text></g>
<g id="n54-7" class="bd B" transform="translate(0 423.5)"><use href="#r"/><text>B</text></g>
<g id="n54-8" class="bd B" transform="translate(0 484)"><use href="#r"/><text>B</text></g>
<g id="n54-9" class="bd B" transform="translate(0 544.5)"><use href="#r"/><text>B</text></g>
<g id="n54-10" class="bd B" transform="translate(0 605)"><use href="#r"/><text>B</text></g>
<g id="n54-11" class="bd A" transform="translate(0 665.5)"><use href="#r"/><use href="#p"/><text>A</text></g>
<g id="n54-12" class="bd B" transform="translate(0 726)"><use href="#r"/><text>B</text></g>
<g id="n54-13" class="bd B" transform="translate(0 786.5)"><use href="#r"/><text>B</text></g>
<g id="n54-14" class="bd B" transform="translate(0 847)"><use href="#r"/><text>B</text></g>
<g id="n54-15" class="bd C" transform="translate(0 907.5)"><use href="#r"/><use href="#p"/><text>C</text></g>
</g>
<g id="col55" transform="translate(1109.68 84)">
<g id="n55-0" class="bd C"><use href="#r"/><use href="#p"/><text>C</text></g>
<g id="n55-1" class="bd B" transform="translate(0 60.5)"><use href="#r"/><text>B</text></g>
<g id="n55-2" class="bd E" transform="translate(0 121)"><use href="#r"/><use href="#p"/><text>E</text></g>
<g id="n55-3" class="bd E" transform="translate(0 181.5)"><use href="#r"/><use href="#p"/><text>E</text></g>
<g id="n55-4" class="bd B" transform="translate(0 242)"><use href="#r"/><text>B</text></g>
<g id="n55-5" class="bd B" transform="translate(0 302.5)"><use href="#r"/><text>B</text></g>
<g id="n55-6" class="bd A" transform="translate(0 363)"><use href="#r"/><use href="#p"/><text>A</text></g>
<g id="n55-7" class="bd B" transform="translate(0 423.5)"><use href="#r"/><text>B</text></g>
<g id="n55-8" class="bd B" transform="translate(0 484)"><use href="#r"/><text>B</text></g>
<g id="n55-9" class="bd B" transform="translate(0 544.5)"><use href="#r"/><text>B</text></g>
<g id="n55-10" class="bd B" transform="translate(0 605)"><use href="#r"/><text>B</text></g>
<g id="n55-11" class="bd E" transform="translate(0 665.5)"><use href="#r"/><use href="#p"/><text>E</text></g>
<g id="n55-12" class="bd E" transform="translate(0 726)"><use href="#r"/><use href="#p"/><text>E</text></g>
<g id="n55-13" class="bd B" transform="translate(0 786.5)"><use href="#r"/><text>B</text></g>
<g id="n55-14" class="bd B" transform="translate(0 847)"><use href="#r"/><text>B</text></g>
<g id="n55-15" class="bd B" transform="translate(0 907.5)"><use href="#r"/><text>B</text></g>
</g>
<g id="col56" transform="translate(1155 114.25)">
<g id="n56-0" class="bd B"><use href="#r"/><text>B</text></g>
<g id="n56-1" class="bd B" transform="translate(0 60.5)"><use href="#r"/><text>B</text></g>
<g id="n56-2" class="bd B" transform="translate(0 121)"><use href="#r"/><text>B</text></g>
<g id="n56-3" class="bd B" transform="translate(0 181.5)"><use href="#r"/><text>B</text></g>
<g id="n56-4" class="bd B" transform="translate(0 242)"><use href="#r"/><text>B</text></g>
<g id="n56-5" class="bd A" transform="translate(0 302.5)"><use href="#r"/><use href="#p"/><text>A</text></g>
<g id="n56-6" class="bd B" transform="translate(0 363)"><use href="#r"/><text>B</text></g>
<g id="n56-7" class="bd B" transform="translate(0 423.5)"><use href="#r"/><text>B</text></g>
<g id="n56-8" class="bd B" transform="translate(0 484)"><use href="#r"/><text>B</text></g>
<g id="n56-9" class="bd B" transform="translate(0 544.5)"><use href="#r"/><text>B</text></g>
<g id="n56-10" class="bd E" transform="translate(0 605)"><use href="#r"/><use href="#p"/><text>E</text></g>
<g id="n56-11" class="bd D" transform="translate(0 665.5)"><use href="#r"/><use href="#p"/><text>D</text></g>
<g id="n56-12" class="bd E" transform="translate(0 726)"><use href="#r"/><use href="#p"/><text>E</text></g>
<g id="n56-13" class="bd B" transform="translate(0 786.5)"><use href="#r"/><text>B</text></g>
<g id="n56-14" class="bd B" transform="translate(0 847)"><use href="#r"/><text>B</text></g>
<g id="n56-15" class="bd C" transform="translate(0 907.5)"><use href="#r"/><use href="#p"/><text>C</text></g>
</g>
<g id="col57" transform="translate(1200.32 84)">
<g id="n57-0" class="bd C"><use href="#r"/><use href="#p"/><text>C</text></g>
<g id="n57-1" class="bd B" transform="translate(0 60.5)"><use href="#r"/><text>B</text></g>
<g id="n57-2" class="bd B" transform="translate(0 121)"><use href="#r"/><text>B</text></g>
<g id="n57-3" class="bd E" transform="translate(0 181.5)"><use href="#r"/><use href="#p"/><text>E</text></g>
<g id="n57-4" class="bd E" transform="translate(0 242)"><use href="#r"/><use href="#p"/><text>E</text></g>
<g id="n57-5" class="bd A" transform="translate(0 302.5)"><use href="#r"/><use href="#p"/><text>A</text></g>
<g id="n57-6" class="bd F" transform="translate(0 363)"><use href="#r"/><use href="#p"/><text>F</text></g>
<g id="n57-7" class="bd F" transform="translate(0 423.5)"><use href="#r"/><use href="#p"/><text>F</text></g>
<g id="n57-8" class="bd B" transform="translate(0 484)"><use href="#r"/><text>B</text></g>
<g id="n57-9" class="bd B" transform="translate(0 544.5)"><use href="#r"/><text>B</text></g>
<g id="n57-10" class="bd B" transform="translate(0 605)"><use href="#r"/><text>B</text></g>
<g id="n57-11" class="bd E" transform="translate(0 665.5)"><use href="#r"/><use href="#p"/><text>E</text></g>
<g id="n57-12" class="bd E" transform="translate(0 726)"><use href="#r"/><use href="#p"/><text>E</text></g>
<g id="n57-13" class="bd B" transform="translate(0 786.5)"><use href="#r"/><text>B</text></g>
<g id="n57-14" class="bd B" transform="translate(0 847)"><use href="#r"/><text>B</text></g>
<g id="n57-15" class="bd B" transform="translate(0 907.5)"><use href="#r"/><text>B</text></g>
</g>
<g id="col58" transform="translate(1245.64 114.25)">
<g id="n58-0" class="bd B"><use href="#r"/><text>B</text></g>
<g id="n58-1" class="bd B" transform="translate(0 60.5)"><use href="#r"/><text>B</text></g>
<g id="n58-2" class="bd E" transform="translate(0 121)"><use href="#r"/><use href="#p"/><text>E</text></g>
<g id="n58-3" class="bd D" transform="translate(0 181.5)"><use href="#r"/><use href="#p"/><text>D</text></g>
<g id="n58-4" class="bd E" transform="translate(0 242)"><use href="#r"/><use href="#p"/><text>E</text></g>
<g id="n58-5" class="bd A" transform="translate(0 302.5)"><use href="#r"/><use href="#p"/><text>A</text></g>
<g id="n58-6" class="bd F" transform="translate(0 363)"><use href="#r"/><use href="#p"/><text>F</text></g>
<g id="n58-7" class="bd F" transform="translate(0 423.5)"><use href="#r"/><use href="#p"/><text>F</text></g>
<g id="n58-8" class="bd B" transform="translate(0 484)"><use href="#r"/><text>B</text></g>
<g id="n58-9" class="bd B" transform="translate(0 544.5)"><use href="#r"/><text>B</text></g>
<g id="n58-10" class="bd B" transform="translate(0 605)"><use href="#r"/><text>B</text></g>
<g id="n58-11" class="bd A" transform="translate(0 665.5)"><use href="#r"/><use href="#p"/><text>A</text></g>
<g id="n58-12" class="bd B" transform="translate(0 726)"><use href="#r"/><text>B</text></g>
<g id="n58-13" class="bd B" transform="translate(0 786.5)"><use href="#r"/><text>B</text></g>
<g id="n58-14" class="bd B" transform="translate(0 847)"><use href="#r"/><text>B</text></g>
<g id="n58-15" class="bd C" transform="translate(0 907.5)"><use href="#r"/><use href="#p"/><text>C</text></g>
</g>
<g id="col59" transform="translate(1290.96 84)">
<g id="n59-0" class="bd C"><use href="#r"/><use href="#p"/><text>C</text></g>
<g id="n59-1" class="bd B" transform="translate(0 60.5)"><use href="#r"/><text>B</text></g>
<g id="n59-2" class="bd B" transform="translate(0 121)"><use href="#r"/><text>B</text></g>
<g id="n59-3" class="bd E" transform="translate(0 181.5)"><use href="#r"/><use href="#p"/><text>E</text></g>
<g id="n59-4" class="bd E" transform="translate(0 242)"><use href="#r"/><use href="#p"/><text>E</text></g>
<g id="n59-5" class="bd A" transform="translate(0 302.5)"><use href="#r"/><use href="#p"/><text>A</text></g>
<g id="n59-6" class="bd B" transform="translate(0 363)"><use href="#r"/><text>B</text></g>
<g id="n59-7" class="bd B" transform="translate(0 423.5)"><use href="#r"/><text>B</text></g>
<g id="n59-8" class="bd B" transform="translate(0 484)"><use href="#r"/><text>B</text></g>
<g id="n59-9" class="bd B" transform="translate(0 544.5)"><use href="#r"/><text>B</text></g>
<g id="n59-10" class="bd B" transform="translate(0 605)"><use href="#r"/><text>B</text></g>
<g id="n59-11" class="bd B" transform="translate(0 665.5)"><use href="#r"/><text>B</text></g>
<g id="n59-12" class="bd A" transform="translate(0 726)"><use href="#r"/><use href="#p"/><text>A</text></g>
<g id="n59-13" class="bd B" transform="translate(0 786.5)"><use href="#r"/><text>B</text></g>
<g id="n59-14" class="bd B" transform="translate(0 847)"><use href="#r"/><text>B</text></g>
<g id="n59-15" class="bd B" transform="translate(0 907.5)"><use href="#r"/><text>B</text></g>
</g>
<g id="col60" transform="translate(1336.28 114.25)">
<g id="n60-0" class="bd B"><use href="#r"/><text>B</text></g>
<g id="n60-1" class="bd B" transform="translate(0 60.5)"><use href="#r"/><text>B</text></g>
<g id="n60-2" class="bd B" transform="translate(0 121)"><use href="#r"/><text>B</text></g>
<g id="n60-3" class="bd B" transform="translate(0 181.5)"><use href="#r"/><text>B</text></g>
<g id="n60-4" class="bd B" transform="translate(0 242)"><use href="#r"/><text>B</text></g>
<g id="n60-5" class="bd A" transform="translate(0 302.5)"><use href="#r"/><use href="#p"/><text>A</text></g>
<g id="n60-6" class="bd B" transform="translate(0 363)"><use href="#r"/><text>B</text></g>
<g id="n60-7" class="bd B" transform="translate(0 423.5)"><use href="#r"/><text>B</text></g>
<g id="n60-8" class="bd B" transform="translate(0 484)"><use href="#r"/><text>B</text></g>
<g id="n60-9" class="bd B" transform="translate(0 544.5)"><use href="#r"/><text>B</text></g>
<g id="n60-10" class="bd B" transform="translate(0 605)"><use href="#r"/><text>B</text></g>
<g id="n60-11" class="bd A" transform="translate(0 665.5)"><use href="#r"/><use href="#p"/><text>A</text></g>
<g id="n60-12" class="bd B" transform="translate(0 726)"><use href="#r"/><text>B</text></g>
<g id="n60-13" class="bd B" transform="translate(0 786.5)"><use href="#r"/><text>B</text></g>
<g id="n60-14" class="bd B" transform="translate(0 847)"><use href="#r"/><text>B</text></g>
<g id="n60-15" class="bd C" transform="translate(0 907.5)"><use href="#r"/><use href="#p"/><text>C</text></g>
</g>
</g>
<g id="connectors"/>
</svg>
